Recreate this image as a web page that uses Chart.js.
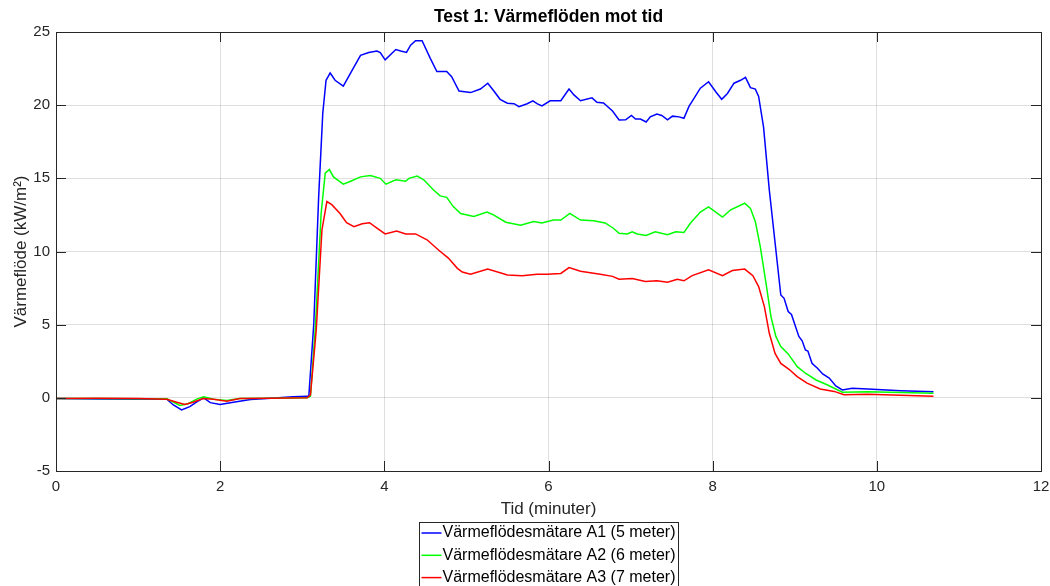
<!DOCTYPE html>
<html>
<head>
<meta charset="utf-8">
<script src="https://cdn.jsdelivr.net/npm/chart.js@4"></script>
<style>
  html, body { margin: 0; padding: 0; background: #fff; }
  #wrap { width: 1050px; height: 586px; }
</style>
</head>
<body>
<div id="wrap"><canvas id="chart"></canvas></div>
<script>
// Värmeflöde (kW/m2) mot tid (minuter)
const titleText = 'Test 1: Värmeflöden mot tid';
const xTitle = 'Tid (minuter)';
const yTitle = 'Värmeflöde (kW/m²)';
const seriesNames = [
  'Värmeflödesmätare A1 (5 meter)',
  'Värmeflödesmätare A2 (6 meter)',
  'Värmeflödesmätare A3 (7 meter)'
];
const seriesColors = ['#0000ff', '#00ff00', '#ff0000'];

const timeA1 = [0, 0.5, 1.0, 1.35, 1.43, 1.53, 1.63, 1.72, 1.80, 1.88, 2.0, 2.16, 2.37, 2.57, 2.89, 3.06,
  3.08, 3.14, 3.20, 3.25, 3.29, 3.34, 3.40, 3.50, 3.59, 3.71, 3.81, 3.91, 3.95, 4.01, 4.14, 4.20, 4.27,
  4.32, 4.38, 4.46, 4.56, 4.64, 4.76, 4.82, 4.91, 5.05, 5.17, 5.26, 5.33, 5.41, 5.50, 5.58, 5.64, 5.74,
  5.81, 5.86, 5.92, 6.02, 6.15, 6.25, 6.31, 6.39, 6.53, 6.59, 6.67, 6.78, 6.86, 6.94, 7.01, 7.06, 7.12,
  7.19, 7.24, 7.32, 7.38, 7.45, 7.51, 7.59, 7.65, 7.71, 7.85, 7.95, 8.04, 8.11, 8.18, 8.26, 8.34, 8.40,
  8.46, 8.52, 8.56, 8.62, 8.69, 8.77, 8.83, 8.87, 8.92, 8.96, 9.05, 9.09, 9.13, 9.16, 9.21, 9.28, 9.34,
  9.42, 9.50, 9.58, 9.70, 9.89, 10.29, 10.69];
const valuesA1 = [-0.05, -0.08, -0.1, -0.1, -0.49, -0.83, -0.6, -0.26, 0.0, -0.33, -0.45, -0.3, -0.11, -0.05, 0.07, 0.1,
  0.1, 5.0, 13.75, 19.45, 21.7, 22.2, 21.7, 21.3, 22.2, 23.4, 23.6, 23.7, 23.6, 23.1, 23.8, 23.7, 23.6,
  24.1, 24.4, 24.4, 23.2, 22.3, 22.3, 21.95, 20.97, 20.86, 21.1, 21.5, 21.0, 20.4, 20.13, 20.1, 19.9, 20.1,
  20.3, 20.1, 19.95, 20.3, 20.3, 21.1, 20.7, 20.3, 20.5, 20.2, 20.15, 19.6, 18.99, 19.0, 19.3, 19.05, 19.05,
  18.85, 19.2, 19.4, 19.3, 19.0, 19.25, 19.2, 19.1, 19.9, 21.16, 21.6, 20.9, 20.4, 20.8, 21.5, 21.7, 21.9,
  21.2, 21.1, 20.6, 18.5, 14.2, 10.1, 7.03, 6.8, 5.9, 5.7, 4.2, 3.9, 3.27, 3.2, 2.36, 2.0, 1.63,
  1.35, 0.81, 0.54, 0.65, 0.6, 0.49, 0.42];

const timeA2 = [0, 0.5, 1.0, 1.35, 1.51, 1.61, 1.72, 1.80, 1.92, 2.08, 2.24, 2.6, 3.06, 3.10, 3.16, 3.23,
  3.28, 3.33, 3.38, 3.50, 3.59, 3.71, 3.83, 3.95, 4.02, 4.14, 4.26, 4.30, 4.40, 4.48, 4.60, 4.68, 4.76,
  4.84, 4.93, 5.09, 5.25, 5.33, 5.48, 5.66, 5.82, 5.92, 6.06, 6.15, 6.26, 6.39, 6.55, 6.69, 6.79, 6.86,
  6.96, 7.02, 7.08, 7.19, 7.30, 7.45, 7.55, 7.65, 7.73, 7.85, 7.95, 8.12, 8.22, 8.39, 8.46, 8.52, 8.58,
  8.65, 8.71, 8.77, 8.83, 8.92, 9.03, 9.13, 9.26, 9.40, 9.58, 9.89, 10.69];
const valuesA2 = [-0.05, -0.05, -0.07, -0.07, -0.52, -0.4, -0.07, 0.07, -0.1, -0.18, -0.05, -0.02, 0.0, 0.1, 4.8, 12.6,
  15.35, 15.6, 15.1, 14.6, 14.8, 15.1, 15.2, 15.0, 14.6, 14.9, 14.8, 15.0, 15.15, 14.9, 14.2, 13.8, 13.7,
  13.07, 12.6, 12.4, 12.7, 12.5, 12.0, 11.8, 12.05, 11.95, 12.15, 12.15, 12.6, 12.15, 12.1, 11.95, 11.59, 11.25,
  11.2, 11.35, 11.2, 11.1, 11.35, 11.15, 11.35, 11.3, 11.95, 12.7, 13.05, 12.35, 12.85, 13.3, 12.95, 12.04, 10.33,
  7.83, 5.55, 4.2, 3.5, 3.0, 2.13, 1.68, 1.22, 0.88, 0.38, 0.42, 0.31];

const timeA3 = [0, 0.5, 1.0, 1.35, 1.47, 1.57, 1.67, 1.79, 1.92, 2.08, 2.24, 2.6, 3.06, 3.10, 3.17, 3.24,
  3.30, 3.36, 3.46, 3.54, 3.63, 3.73, 3.82, 3.91, 4.01, 4.15, 4.26, 4.38, 4.52, 4.66, 4.78, 4.89, 4.95,
  5.05, 5.26, 5.50, 5.68, 5.86, 5.98, 6.15, 6.25, 6.39, 6.63, 6.78, 6.86, 7.02, 7.18, 7.32, 7.45, 7.57,
  7.65, 7.75, 7.95, 8.12, 8.24, 8.39, 8.49, 8.56, 8.63, 8.69, 8.76, 8.83, 8.93, 9.03, 9.15, 9.31, 9.48,
  9.60, 9.89, 10.69];
const valuesA3 = [-0.05, -0.03, -0.05, -0.1, -0.3, -0.46, -0.3, -0.05, -0.1, -0.23, -0.05, -0.02, 0.0, 0.2, 4.6, 11.47,
  13.41, 13.2, 12.6, 11.97, 11.7, 11.9, 11.97, 11.6, 11.2, 11.4, 11.2, 11.2, 10.8, 10.1, 9.55, 8.85, 8.6,
  8.45, 8.8, 8.4, 8.35, 8.45, 8.45, 8.5, 8.9, 8.65, 8.45, 8.3, 8.1, 8.15, 7.95, 8.0, 7.9, 8.1,
  8.0, 8.35, 8.75, 8.35, 8.7, 8.8, 8.35, 7.6, 6.23, 4.41, 3.04, 2.35, 1.95, 1.45, 1.0, 0.6, 0.44,
  0.21, 0.25, 0.1];

const xTicks = [0, 2, 4, 6, 8, 10, 12];
const yTicks = [-5, 0, 5, 10, 15, 20, 25];

const FONT = "'Liberation Sans', Arial, Helvetica, sans-serif";
const AXIS_COLOR = '#262626';

function toPoints(times, values) {
  return times.map((t, i) => ({ x: t, y: values[i] }));
}

const allTimes = [timeA1, timeA2, timeA3];
const allValues = [valuesA1, valuesA2, valuesA3];

const datasets = seriesNames.map((name, i) => ({
  label: name,
  data: toPoints(allTimes[i], allValues[i]),
  borderColor: seriesColors[i],
  backgroundColor: seriesColors[i],
  borderWidth: 1.5,
  pointRadius: 0,
  tension: 0,
  fill: false,
  order: 2 - i
}));

// ram, inre tickmarkeringar, titel och legend i MATLAB-stil
const matlabStyle = {
  id: 'matlabStyle',
  afterDatasetsDraw(chart) {
    const { ctx, chartArea: a, scales } = chart;
    const tickLen = 10;
    ctx.save();
    ctx.strokeStyle = AXIS_COLOR;
    ctx.lineWidth = 1;
    ctx.beginPath();
    xTicks.forEach(v => {
      const px = Math.round(scales.x.getPixelForValue(v)) + 0.5;
      ctx.moveTo(px, a.bottom); ctx.lineTo(px, a.bottom - tickLen);
      ctx.moveTo(px, a.top); ctx.lineTo(px, a.top + tickLen);
    });
    yTicks.forEach(v => {
      const py = Math.round(scales.y.getPixelForValue(v)) + 0.5;
      ctx.moveTo(a.left, py); ctx.lineTo(a.left + tickLen, py);
      ctx.moveTo(a.right, py); ctx.lineTo(a.right - tickLen, py);
    });
    ctx.stroke();
    ctx.strokeRect(Math.round(a.left) + 0.5, Math.round(a.top) + 0.5,
      Math.round(a.right - a.left), Math.round(a.bottom - a.top));
    ctx.restore();
  },
  afterDraw(chart) {
    const { ctx, chartArea: a } = chart;
    const cx = (a.left + a.right) / 2;
    ctx.save();
    // titel
    ctx.fillStyle = '#000';
    ctx.font = 'bold 17.5px ' + FONT;
    ctx.textAlign = 'center';
    ctx.textBaseline = 'middle';
    ctx.fillText(titleText, cx, 17);

    // legend
    ctx.font = '16px ' + FONT;
    const textW = Math.max(...chart.data.datasets.map(d => ctx.measureText(d.label).width));
    const boxW = Math.round(textW + 26);
    const boxL = Math.round(cx - boxW / 2) + 0.5;
    const boxT = 522.5;
    ctx.fillStyle = '#fff';
    ctx.fillRect(boxL, boxT, boxW, 70);
    ctx.strokeStyle = AXIS_COLOR;
    ctx.lineWidth = 1;
    ctx.strokeRect(boxL, boxT, boxW, 70);
    ctx.textAlign = 'left';
    chart.data.datasets.forEach((d, i) => {
      const y = 533 + i * 22.3;
      ctx.strokeStyle = d.borderColor;
      ctx.lineWidth = 1.5;
      ctx.beginPath();
      ctx.moveTo(boxL + 2, y);
      ctx.lineTo(boxL + 22, y);
      ctx.stroke();
      ctx.fillStyle = '#000';
      ctx.fillText(d.label, boxL + 23, y);
    });
    ctx.restore();
  }
};

new Chart(document.getElementById('chart'), {
  type: 'line',
  data: { datasets: datasets },
  options: {
    responsive: true,
    maintainAspectRatio: false,
    animation: false,
    events: [],
    layout: { padding: { top: 32, right: 9, bottom: 66, left: 0 } },
    plugins: {
      legend: { display: false },
      title: { display: false },
      tooltip: { enabled: false }
    },
    scales: {
      x: {
        type: 'linear',
        min: 0,
        max: 12,
        afterFit: s => { s.height = 49; },
        afterBuildTicks: s => { s.ticks = xTicks.map(v => ({ value: v })); },
        ticks: { color: AXIS_COLOR, font: { family: FONT, size: 15 }, padding: 0, maxRotation: 0 },
        grid: { color: 'rgba(38,38,38,0.15)', lineWidth: 1, drawTicks: true, tickLength: 7, tickColor: 'rgba(0,0,0,0)' },
        border: { display: true, color: AXIS_COLOR, width: 1 },
        title: {
          display: true, text: xTitle, color: AXIS_COLOR,
          font: { family: FONT, size: 17 }, padding: { top: 0, bottom: 0 }
        }
      },
      y: {
        min: -5,
        max: 25,
        afterFit: s => { s.width = 56; },
        afterBuildTicks: s => { s.ticks = yTicks.map(v => ({ value: v })); },
        ticks: { color: AXIS_COLOR, font: { family: FONT, size: 15 }, padding: 6 },
        grid: { color: 'rgba(38,38,38,0.15)', lineWidth: 1, drawTicks: false },
        border: { display: true, color: AXIS_COLOR, width: 1 },
        title: {
          display: true, text: yTitle, color: AXIS_COLOR,
          font: { family: FONT, size: 17 }, padding: { top: 11, bottom: 0 }
        }
      }
    }
  },
  plugins: [matlabStyle]
});
</script>
</body>
</html>
